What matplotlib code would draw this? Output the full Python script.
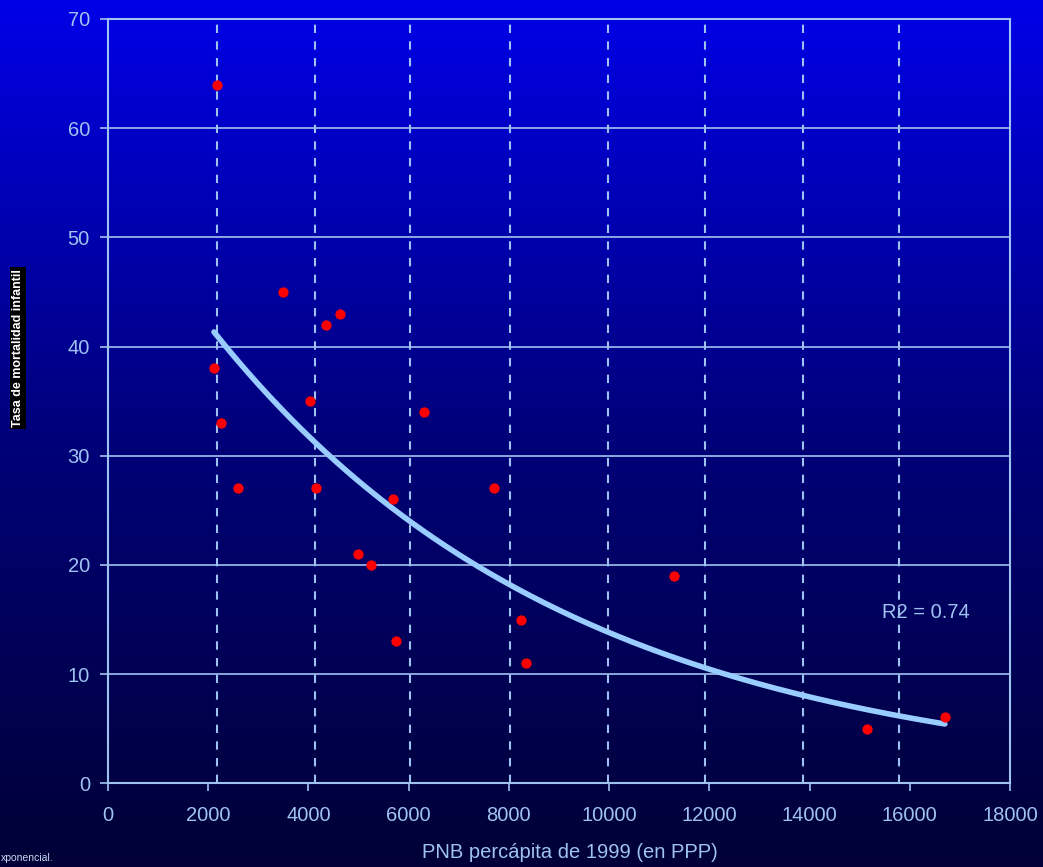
import numpy as np
import matplotlib
matplotlib.use("Agg")
import matplotlib.pyplot as plt
from matplotlib.colors import LinearSegmentedColormap

# Data
pnb = [2175, 3490, 4350, 4635, 2115, 4030, 2250, 6300, 2595, 4155, 5695,
       7700, 4990, 5250, 5755, 8250, 8340, 11300, 15150, 16700]
mort = [64, 45, 42, 43, 38, 35, 33, 34, 27, 27, 26,
        27, 21, 20, 13, 15, 11, 19, 5, 6.1]
x_ticks = [0, 2000, 4000, 6000, 8000, 10000, 12000, 14000, 16000, 18000]
y_ticks = [0, 10, 20, 30, 40, 50, 60, 70]
dash_lines = [2170, 4130, 6030, 8020, 9980, 11910, 13870, 15790]
r2_text = "R2 = 0.74"

plt.rcParams['font.family'] = ['Liberation Sans', 'DejaVu Sans']
fg = '#9FC3F0'

fig = plt.figure(figsize=(10.43, 8.67), dpi=100)
bg = fig.add_axes([0, 0, 1, 1], zorder=-10)
cmap = LinearSegmentedColormap.from_list('bg', ['#0000E8', '#00007A', '#000036'])
grad = np.linspace(0, 1, 256).reshape(-1, 1)
bg.imshow(grad, aspect='auto', cmap=cmap, extent=[0, 1, 0, 1])
bg.set_axis_off()

ax = fig.add_axes([108/1043, 1-783.3/867, (1010-108)/1043, (783.3-19)/867])
ax.patch.set_alpha(0)
ax.set_xlim(0, 18000)
ax.set_ylim(0, 70)
ax.set_xticks(x_ticks)
ax.set_yticks(y_ticks)
ax.tick_params(colors=fg, labelcolor=fg, labelsize=14.5, length=6, width=1.2, direction='out')
ax.tick_params(axis='x', pad=10)
ax.tick_params(axis='y', pad=7)
for s in ax.spines.values():
    s.set_color(fg)
    s.set_linewidth(1.5)
for yv in y_ticks[1:]:
    ax.axhline(yv, color=fg, lw=1.2, zorder=1)
for xv in dash_lines:
    ax.axvline(xv, color=fg, lw=1.5, ls=(0, (4, 4)), zorder=1)

# exponential trend (fit on log scale)
b, ln_a = np.polyfit(pnb, np.log(mort), 1)
xs = np.linspace(min(pnb), max(pnb), 200)
ax.plot(xs, np.exp(ln_a + b*xs), color='#99CCFF', lw=4, solid_capstyle='round', zorder=2)

ax.scatter(pnb, mort, s=55, color='#FF0000', zorder=3, linewidths=0)

ax.text(15446, 15.6, r2_text, color=fg, fontsize=14.5, va='center', ha='left')

fig.text(570/1043, 1-853/867, "PNB percápita de 1999 (en PPP)", color=fg, fontsize=14.5,
         ha='center', va='center')
fig.text(18/1043, 1-348/867, "Tasa de mortalidad infantil", color='white', fontsize=9,
         fontweight='bold', rotation=90, ha='center', va='center',
         bbox=dict(facecolor='black', edgecolor='none', pad=1.5))
fig.text(1/1043, 1-858/867, "xponencial.", color='#C8D8F0', fontsize=7.5,
         ha='left', va='center')

fig.savefig('out.png', dpi=100)
